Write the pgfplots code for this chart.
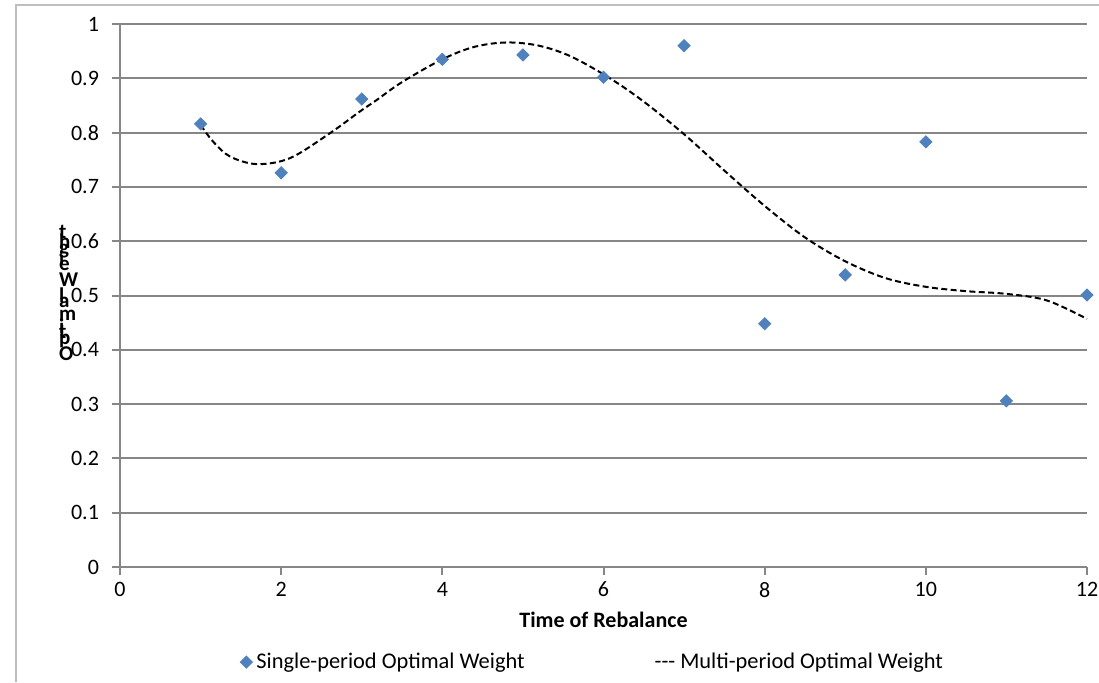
\documentclass[border=0pt]{standalone}
\usepackage{fontspec}
\setmainfont{Carlito}
\usepackage{pgfplots}
\pgfplotsset{compat=1.18}
\definecolor{xlblue}{RGB}{79,129,189}
\definecolor{xlgrid}{RGB}{134,134,134}
\definecolor{xlframe}{RGB}{190,190,190}

\begin{document}
\begin{tikzpicture}
\path[use as bounding box] (0,0) rectangle (549.5pt,341pt);
% chart frame (only top and left edges show)
\draw[xlframe, line width=0.9pt] (8pt,0pt) -- (8pt,338.5pt) -- (549.5pt,338.5pt);
\begin{axis}[
  at={(60pt,57.5pt)}, anchor=south west,
  scale only axis, width=483.5pt, height=271.5pt,
  xmin=0, xmax=12, ymin=0, ymax=1,
  xtick={0,2,4,6,8,10,12},
  ytick={0,0.1,0.2,0.3,0.4,0.5,0.6,0.7,0.8,0.9,1},
  axis x line=bottom, axis y line=left,
  axis line style={xlgrid, line width=1pt, -},
  tick align=outside, major tick length=4pt,
  tick style={xlgrid, line width=1pt},
  ymajorgrids, major grid style={xlgrid, line width=1pt},
  tick label style={font=\fontsize{11}{13}\selectfont},
  /pgf/number format/assume math mode=true,
  yticklabel style={xshift=-3pt},
  xlabel={Time of Rebalance},
  xlabel style={font=\bfseries\fontsize{11}{13}\selectfont,
    at={(axis description cs:0.5,0)}, anchor=center, yshift=-26.5pt},
  clip=false,
  legend columns=2,
  legend style={at={(axis description cs:0.124,-0.175)}, anchor=west,
    draw=none, fill=none, inner sep=0pt,
    font=\fontsize{11.2}{13}\selectfont,
    /tikz/every even column/.append style={column sep=61pt}},
]
% single-period weights
\addplot[only marks, mark=square*, mark size=2.15pt,
  mark options={rotate=45, draw=xlblue, fill=xlblue},
  legend image code/.code={\draw[##1] plot coordinates {(0pt,0pt)};}]
  coordinates {
  (1,0.816) (2,0.726) (3,0.862) (4,0.935) (5,0.943) (6,0.902)
  (7,0.960) (8,0.448) (9,0.538) (10,0.783) (11,0.306) (12,0.501)
};
\addlegendentry{Single-period Optimal Weight}
% multi-period weights (trend)
\addplot[black, line width=1pt, dash pattern=on 3pt off 1.7pt,
  smooth, tension=0.55, legend image code/.code={}]
  coordinates {
  (1.0,0.814) (1.158,0.783) (1.365,0.756) (1.697,0.742) (2.11,0.753)
  (2.606,0.799) (2.978,0.839) (3.185,0.860) (3.5,0.893) (4.0,0.935)
  (4.4,0.958) (4.8,0.966) (5.2,0.960) (5.6,0.940) (6.08,0.900)
  (6.5,0.857) (7.0,0.797) (7.5,0.730) (8.0,0.665) (8.5,0.607)
  (9.0,0.563) (9.5,0.532) (10.0,0.516) (10.5,0.508) (11.0,0.503)
  (11.5,0.491) (12.0,0.457)
};
\addlegendentry{-{}-{}- Multi-period Optimal Weight}
\end{axis}
% y label, stacked letter by letter as in the original
\foreach \ch/\yy in {O/6.76, p/18.89, t/27.73, i/33.66, m/44.25, a/57.32,
  l/64.72, W/80.6, e/94.53, i/102.02, g/109.22, h/119.33, t/128.17} {
  \node[anchor=west, inner sep=0pt, font=\bfseries\fontsize{10.5}{12}\selectfont]
    at (29.3pt, {((322+\yy)*0.5)*1pt}) {\ch};
}
\end{tikzpicture}
\end{document}
